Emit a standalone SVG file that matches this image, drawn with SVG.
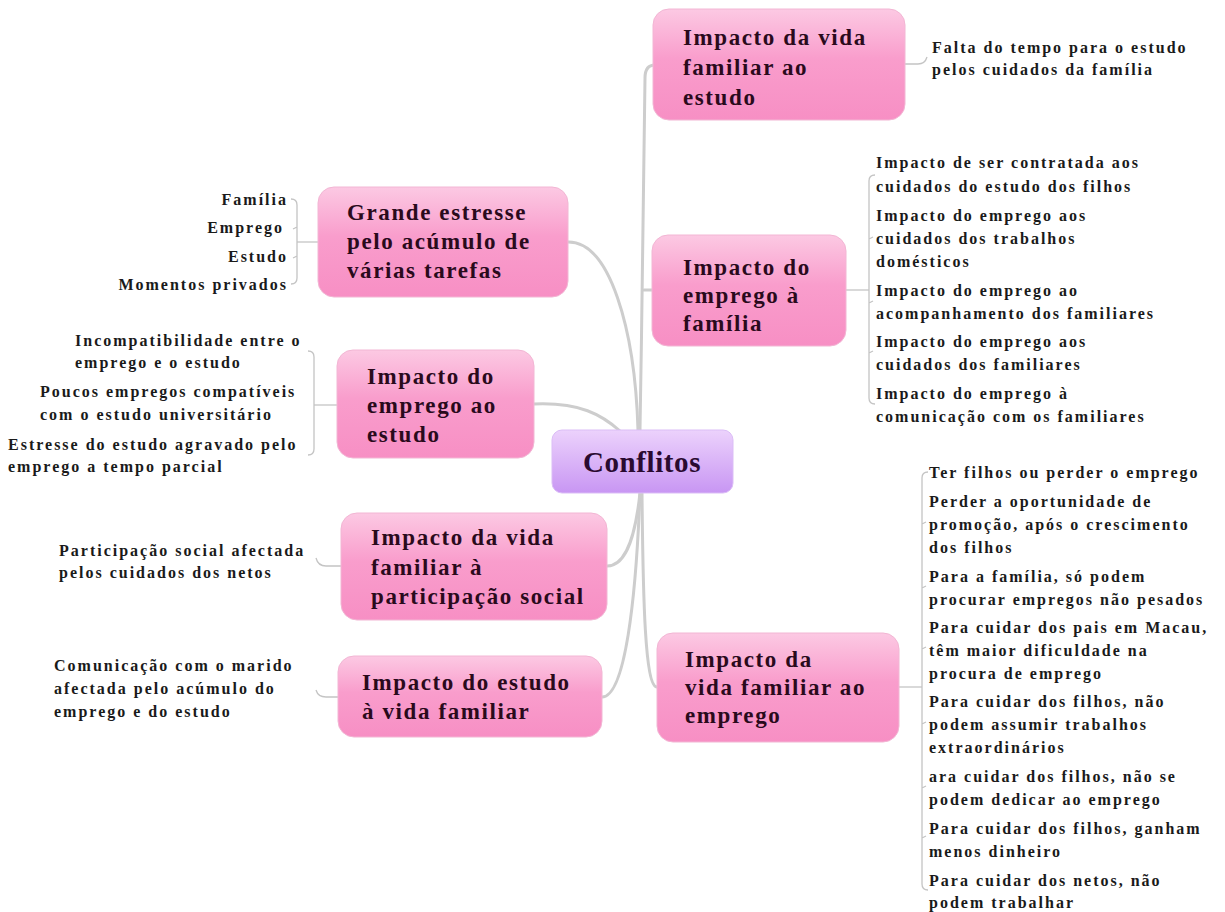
<svg xmlns="http://www.w3.org/2000/svg" width="1225" height="912" viewBox="0 0 1225 912">
<defs>
<linearGradient id="pink" x1="0" y1="0" x2="0" y2="1">
<stop offset="0" stop-color="#fcc9e3"/>
<stop offset="0.45" stop-color="#f99dcc"/>
<stop offset="1" stop-color="#f78fc4"/>
</linearGradient>
<linearGradient id="purple" x1="0" y1="0" x2="0" y2="1">
<stop offset="0" stop-color="#ecd2fc"/>
<stop offset="1" stop-color="#c896f3"/>
</linearGradient>
<style>
.node{fill:url(#pink);stroke:#f2b6d4;stroke-width:1}
.center{fill:url(#purple);stroke:#dbbdf6;stroke-width:1}
text{font-family:'Liberation Serif',Tinos,'Times New Roman','DejaVu Serif',serif;font-weight:bold}
.nt{font-size:23px;letter-spacing:1.6px;fill:#2a0a1c}
.ct{font-size:29px;letter-spacing:0.6px;fill:#2a0a30}
.lt{font-size:16px;letter-spacing:2px;fill:#1a1a1a}
.main{fill:none;stroke:#cdcdcd;stroke-width:3;stroke-linecap:round}
.leaf{fill:none;stroke:#c4c4c4;stroke-width:1.3}
</style>
</defs>
<rect width="1225" height="912" fill="#ffffff"/>

<g id="connectors">
<path class="main" d="M640 430 C642 300 645 140 645 78 Q645 65 655 65"/>
<path class="main" d="M644 290 L653 290"/>
<path class="main" d="M567 242 C610 240 635 330 638 430"/>
<path class="main" d="M534 404 C580 402 602 415 620 431"/>
<path class="main" d="M640 493 C636 530 628 566 607 566"/>
<path class="main" d="M640 493 C636 600 625 697 602 697"/>
<path class="main" d="M642 493 C643 600 645 687 657 687"/>
<path class="leaf" d="M905 64 L918 64 Q925 64 927 57"/>
<path class="leaf" d="M846 290 L869 290"/>
<path class="leaf" d="M875 175 Q869 175 869 181 L869 398 Q869 404 875 404 M869 239 L873 237 M869 303 L873 301 M869 353 L873 351"/>
<path class="leaf" d="M899 687 L922 687"/>
<path class="leaf" d="M928 472 Q922 472 922 478 L922 884 Q922 890 928 890 M922 524 L926 522 M922 588 L926 586 M922 649 L926 647 M922 724 L926 722 M922 788 L926 786 M922 838 L926 836"/>
<path class="leaf" d="M318 242 L297 242"/>
<path class="leaf" d="M291 199 Q297 199 297 205 L297 278 Q297 284 291 284 M297 227 L293 229 M297 256 L293 258"/>
<path class="leaf" d="M337 405 L314 405"/>
<path class="leaf" d="M308 351 Q314 351 314 357 L314 449 Q314 455 308 455"/>
<path class="leaf" d="M316 558 Q318 566 326 566 L341 566"/>
<path class="leaf" d="M316 690 Q318 697 326 697 L338 697"/>
</g>

<g id="center" font-family="Liberation Serif, serif">
<rect class="center" x="552" y="430" width="181" height="63" rx="10"/>
<text class="ct" x="642" y="472" text-anchor="middle">Conflitos</text>
</g>

<g id="n1" font-family="Liberation Serif, serif">
<rect class="node" x="653" y="9" width="252" height="111" rx="16"/>
<text class="nt" x="683" y="45">Impacto da vida</text>
<text class="nt" x="683" y="75">familiar ao</text>
<text class="nt" x="683" y="105">estudo</text>
</g>
<g id="n1-leaves" font-family="Liberation Serif, serif">
<text class="lt" x="932" y="53">Falta do tempo para o estudo</text>
<text class="lt" x="932" y="75">pelos cuidados da família</text>
</g>

<g id="n2" font-family="Liberation Serif, serif">
<rect class="node" x="652" y="235" width="194" height="111" rx="16"/>
<text class="nt" x="683" y="275">Impacto do</text>
<text class="nt" x="683" y="303">emprego à</text>
<text class="nt" x="683" y="331">família</text>
</g>
<g id="n2-leaves" font-family="Liberation Serif, serif">
<text class="lt" x="876" y="168">Impacto de ser contratada aos</text>
<text class="lt" x="876" y="192">cuidados do estudo dos filhos</text>
<text class="lt" x="876" y="221">Impacto do emprego aos</text>
<text class="lt" x="876" y="244">cuidados dos trabalhos</text>
<text class="lt" x="876" y="267">domésticos</text>
<text class="lt" x="876" y="296">Impacto do emprego ao</text>
<text class="lt" x="876" y="319">acompanhamento dos familiares</text>
<text class="lt" x="876" y="347">Impacto do emprego aos</text>
<text class="lt" x="876" y="370">cuidados dos familiares</text>
<text class="lt" x="876" y="399">Impacto do emprego à</text>
<text class="lt" x="876" y="422">comunicação com os familiares</text>
</g>

<g id="n3" font-family="Liberation Serif, serif">
<rect class="node" x="657" y="633" width="242" height="109" rx="16"/>
<text class="nt" x="685" y="667">Impacto da</text>
<text class="nt" x="685" y="695">vida familiar ao</text>
<text class="nt" x="685" y="723">emprego</text>
</g>
<g id="n3-leaves" font-family="Liberation Serif, serif">
<text class="lt" x="929" y="478">Ter filhos ou perder o emprego</text>
<text class="lt" x="929" y="507">Perder a oportunidade de</text>
<text class="lt" x="929" y="530">promoção, após o crescimento</text>
<text class="lt" x="929" y="553">dos filhos</text>
<text class="lt" x="929" y="582">Para a família, só podem</text>
<text class="lt" x="929" y="605">procurar empregos não pesados</text>
<text class="lt" x="929" y="633">Para cuidar dos pais em Macau,</text>
<text class="lt" x="929" y="656">têm maior dificuldade na</text>
<text class="lt" x="929" y="679">procura de emprego</text>
<text class="lt" x="929" y="707">Para cuidar dos filhos, não</text>
<text class="lt" x="929" y="730">podem assumir trabalhos</text>
<text class="lt" x="929" y="753">extraordinários</text>
<text class="lt" x="929" y="782">ara cuidar dos filhos, não se</text>
<text class="lt" x="929" y="805">podem dedicar ao emprego</text>
<text class="lt" x="929" y="834">Para cuidar dos filhos, ganham</text>
<text class="lt" x="929" y="857">menos dinheiro</text>
<text class="lt" x="929" y="886">Para cuidar dos netos, não</text>
<text class="lt" x="929" y="908">podem trabalhar</text>
</g>

<g id="n4" font-family="Liberation Serif, serif">
<rect class="node" x="318" y="187" width="250" height="110" rx="16"/>
<text class="nt" x="347" y="220">Grande estresse</text>
<text class="nt" x="347" y="249">pelo acúmulo de</text>
<text class="nt" x="347" y="278">várias tarefas</text>
</g>
<g id="n4-leaves" font-family="Liberation Serif, serif">
<text class="lt" x="288" y="205" text-anchor="end">Família</text>
<text class="lt" x="284" y="233" text-anchor="end">Emprego</text>
<text class="lt" x="288" y="262" text-anchor="end">Estudo</text>
<text class="lt" x="288" y="290" text-anchor="end">Momentos privados</text>
</g>

<g id="n5" font-family="Liberation Serif, serif">
<rect class="node" x="337" y="350" width="197" height="108" rx="16"/>
<text class="nt" x="367" y="384">Impacto do</text>
<text class="nt" x="367" y="413">emprego ao</text>
<text class="nt" x="367" y="442">estudo</text>
</g>
<g id="n5-leaves" font-family="Liberation Serif, serif">
<text class="lt" x="75" y="346">Incompatibilidade entre o</text>
<text class="lt" x="75" y="368">emprego e o estudo</text>
<text class="lt" x="40" y="397">Poucos empregos compatíveis</text>
<text class="lt" x="40" y="420">com o estudo universitário</text>
<text class="lt" x="8" y="450">Estresse do estudo agravado pelo</text>
<text class="lt" x="8" y="472">emprego a tempo parcial</text>
</g>

<g id="n6" font-family="Liberation Serif, serif">
<rect class="node" x="341" y="513" width="266" height="107" rx="16"/>
<text class="nt" x="371" y="545">Impacto da vida</text>
<text class="nt" x="371" y="575">familiar à</text>
<text class="nt" x="371" y="604">participação social</text>
</g>
<g id="n6-leaves" font-family="Liberation Serif, serif">
<text class="lt" x="59" y="556">Participação social afectada</text>
<text class="lt" x="59" y="578">pelos cuidados dos netos</text>
</g>

<g id="n7" font-family="Liberation Serif, serif">
<rect class="node" x="338" y="656" width="264" height="81" rx="16"/>
<text class="nt" x="362" y="690">Impacto do estudo</text>
<text class="nt" x="362" y="719">à vida familiar</text>
</g>
<g id="n7-leaves" font-family="Liberation Serif, serif">
<text class="lt" x="54" y="671">Comunicação com o marido</text>
<text class="lt" x="54" y="694">afectada pelo acúmulo do</text>
<text class="lt" x="54" y="717">emprego e do estudo</text>
</g>
</svg>
